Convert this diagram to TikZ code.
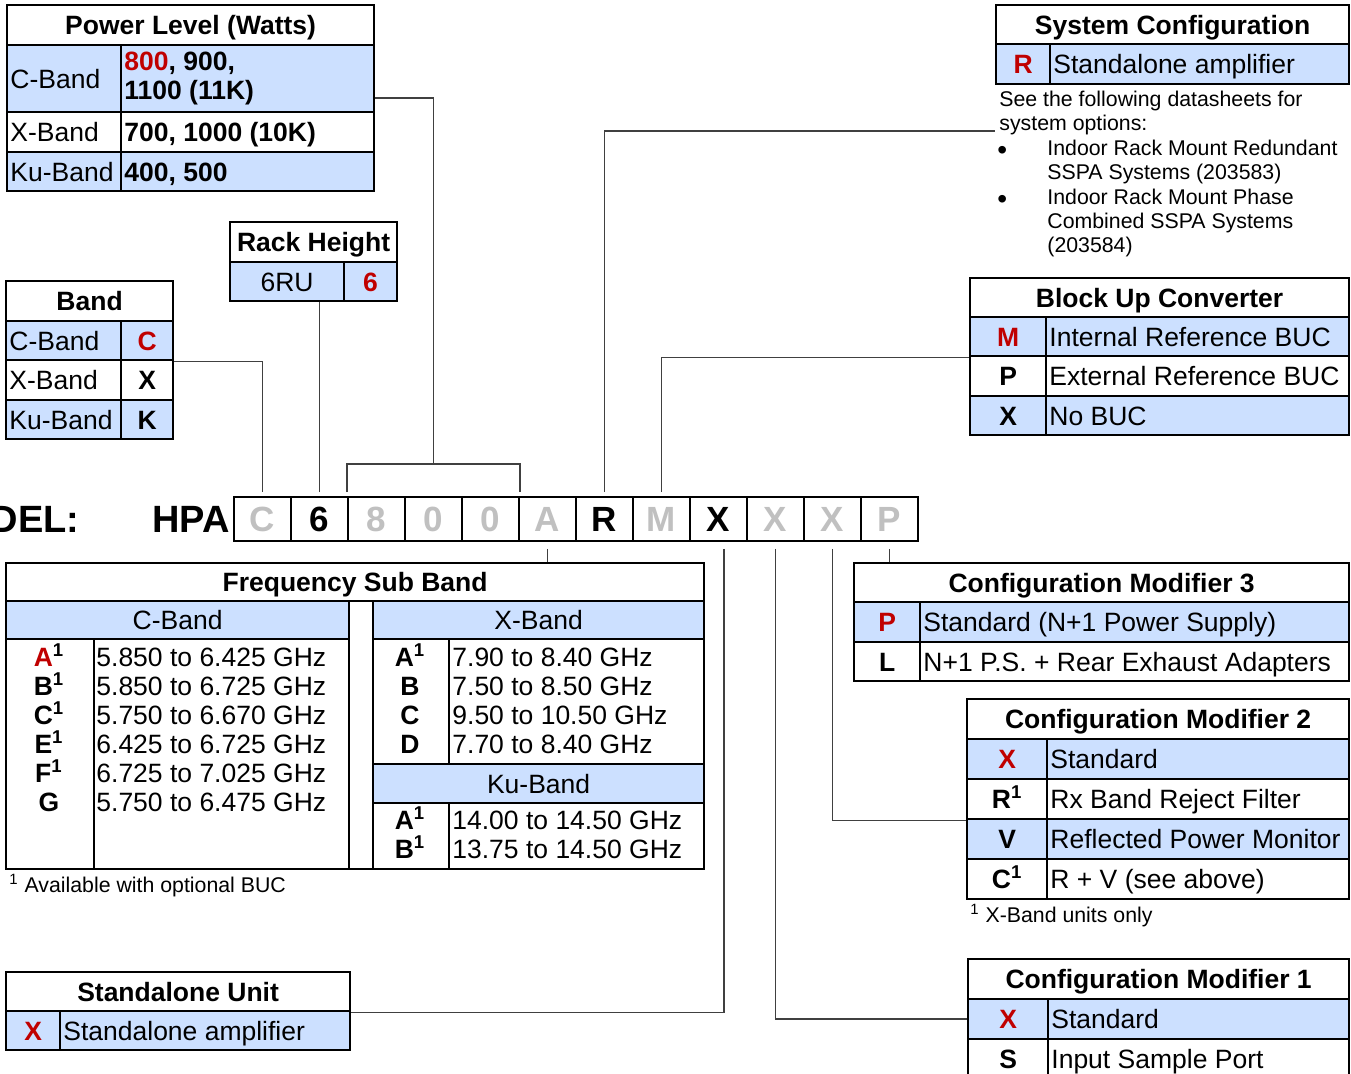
\documentclass[tikz,border=0pt]{standalone}
\usepackage{fontspec}
\setmainfont{Liberation Sans}
\usetikzlibrary{positioning,calc}

\definecolor{cellblue}{RGB}{204,224,255}
\definecolor{codered}{RGB}{192,0,0}
\definecolor{ghost}{RGB}{192,192,192}
\definecolor{wire}{RGB}{64,64,64}
\newcommand\mainsz{\fontsize{13.25pt}{14.5pt}\selectfont}
\newcommand\smallsz{\fontsize{10.65pt}{12.2pt}\selectfont}
\newcommand\bigsz{\fontsize{17.5pt}{20pt}\selectfont}
\newcommand\hugesz{\fontsize{19pt}{22pt}\selectfont}

\tikzset{
  cell/.style={draw, line width=1.1pt, anchor=north west, inner sep=0pt, font=\mainsz, text height=9.5pt, text depth=0pt},
  wh/.style 2 args={minimum width=#1*0.5pt, minimum height=#2*0.5pt},
  lit/.style={fill=cellblue},
  head/.style={font=\mainsz\bfseries},
  pick/.style={font=\mainsz\bfseries, text=codered},
  opt/.style={font=\mainsz\bfseries},
  txt/.style={inner sep=0pt, font=\mainsz, text height=9.5pt, text depth=0pt},
  note/.style={inner sep=0pt, font=\smallsz, anchor=west, text height=7.6pt, text depth=0pt},
  dot/.style={inner sep=0pt, font=\fontsize{14pt}{14pt}\selectfont, anchor=base west, text height=6pt, text depth=0pt},
  slot/.style={draw, line width=0.9pt, minimum width=28.5pt, minimum height=22pt, inner sep=0pt, font=\bigsz\bfseries, text height=12.5pt, text depth=0pt},
  link/.style={draw=wire, line width=0.65pt},
}

\begin{document}
\begin{tikzpicture}[x=0.5pt, y=-0.5pt]
    \path[use as bounding box, fill=white] (0,0) rectangle (1351,1074);

    % Model number
    \foreach \nm/\ch/\ink [count=\i from 0] in {mC/C/ghost, m6/6/black, m8/8/ghost, mZa/0/ghost, mZb/0/ghost, mA/A/ghost, mR/R/black, mM/M/ghost, mXa/X/black, mXb/X/ghost, mXc/X/ghost, mP/P/ghost}
        \node[slot, text=\ink] (\nm) at (262.5+57*\i,519) {\ch};
    \node[inner sep=0pt, font=\hugesz\bfseries, text height=13.6pt, text depth=0pt, left=1.5pt of mC.west] (hpa) {HPA};
    \node[inner sep=0pt, font=\hugesz\bfseries, text height=13.6pt, text depth=0pt, left=36pt of hpa] (modelLbl) {MODEL:};

    % Power level
    \node[cell, head, wh={367}{40}] (pwrHead) at (6,4) {Power Level (Watts)};
    \node[cell, lit, wh={114}{67}] (pwrC) at (6,44) {};
    \node[cell, lit, wh={253}{67}] (pwrCv) at (120,44) {};
    \node[cell, wh={114}{40}] (pwrX) at (6,111) {};
    \node[cell, wh={253}{40}] (pwrXv) at (120,111) {};
    \node[cell, lit, wh={114}{39}] (pwrK) at (6,151) {};
    \node[cell, lit, wh={253}{39}] (pwrKv) at (120,151) {};
    \node[txt, right=2pt of pwrC.west] (pwrCname) {C-Band};
    \node[txt, right=2pt of pwrX.west] (pwrXname) {X-Band};
    \node[txt, right=2pt of pwrK.west] (pwrKname) {Ku-Band};
    \node[txt, font=\mainsz\bfseries, align=left, text height=, text depth=, right=2pt of pwrCv.west] (pwrCval) {\textcolor{codered}{800}, 900,\\1100 (11K)};
    \node[txt, font=\mainsz\bfseries, right=2pt of pwrXv.west] (pwrXval) {700, 1000 (10K)};
    \node[txt, font=\mainsz\bfseries, right=2pt of pwrKv.west] (pwrKval) {400, 500};

    % Rack height
    \node[cell, head, wh={167}{40}] (rackHead) at (229,221) {Rack Height};
    \node[cell, lit, wh={114}{39}] (rackRU) at (229,261) {6RU};
    \node[cell, lit, pick, wh={53}{39}] (rack6) at (343,261) {6};

    % Band
    \node[cell, head, wh={167}{40}] (bandHead) at (5,280) {Band};
    \node[cell, lit, wh={115}{39}] (bandCn) at (5,320) {};
    \node[cell, lit, pick, wh={52}{39}] (bandC) at (120,320) {C};
    \node[cell, wh={115}{40}] (bandXn) at (5,359) {};
    \node[cell, opt, wh={52}{40}] (bandX) at (120,359) {X};
    \node[cell, lit, wh={115}{39}] (bandKn) at (5,399) {};
    \node[cell, lit, opt, wh={52}{39}] (bandK) at (120,399) {K};
    \node[txt, right=2pt of bandCn.west] (bandCtxt) {C-Band};
    \node[txt, right=2pt of bandXn.west] (bandXtxt) {X-Band};
    \node[txt, right=2pt of bandKn.west] (bandKtxt) {Ku-Band};

    % System configuration
    \node[cell, head, wh={353}{39}] (sysHead) at (995,4) {System Configuration};
    \node[cell, lit, pick, wh={54}{40}] (sysR) at (995,43) {R};
    \node[cell, lit, wh={299}{40}] (sysRt) at (1049,43) {};
    \node[txt, right=2pt of sysRt.west] (sysRtxt) {Standalone amplifier};
    \node[note] (sysNoteA) at (999,99) {See the following datasheets for};
    \node[note] (sysNoteB) at (999,123) {system options:};
    \node[dot] (sysDotA) at (997,160) {\textbullet};
    \node[note] (sysItemA) at (1047,148) {Indoor Rack Mount Redundant};
    \node[note] (sysItemB) at (1047,172) {SSPA Systems (203583)};
    \node[dot] (sysDotB) at (997,209) {\textbullet};
    \node[note] (sysItemC) at (1047,197) {Indoor Rack Mount Phase};
    \node[note] (sysItemD) at (1047,221) {Combined SSPA Systems};
    \node[note] (sysItemE) at (1047,245) {(203584)};

    % Block up converter
    \node[cell, head, wh={379}{39}] (bucHead) at (969,277) {Block Up Converter};
    \node[cell, lit, pick, wh={76}{39}] (bucM) at (969,316) {M};
    \node[cell, lit, wh={303}{39}] (bucMt) at (1045,316) {};
    \node[cell, opt, wh={76}{40}] (bucP) at (969,355) {P};
    \node[cell, wh={303}{40}] (bucPt) at (1045,355) {};
    \node[cell, lit, opt, wh={76}{39}] (bucX) at (969,395) {X};
    \node[cell, lit, wh={303}{39}] (bucXt) at (1045,395) {};
    \node[txt, right=2pt of bucMt.west] (bucMtxt) {Internal Reference BUC};
    \node[txt, right=2pt of bucPt.west] (bucPtxt) {External Reference BUC};
    \node[txt, right=2pt of bucXt.west] (bucXtxt) {No BUC};

    % Frequency sub band
    \node[cell, head, wh={698}{38}] (freqHead) at (5,562) {Frequency Sub Band};
    \node[cell, lit, wh={343}{38}] (freqC) at (5,600) {C-Band};
    \node[cell, wh={24}{268}] (freqGap) at (348,600) {};
    \node[cell, lit, wh={331}{38}] (freqX) at (372,600) {X-Band};
    \node[cell, wh={88}{230}] (freqCcode) at (5,638) {};
    \node[cell, wh={255}{230}] (freqCdata) at (93,638) {};
    \node[cell, wh={76}{125}] (freqXcode) at (372,638) {};
    \node[cell, wh={255}{125}] (freqXdata) at (448,638) {};
    \node[cell, lit, wh={331}{39}] (freqK) at (372,763) {Ku-Band};
    \node[cell, wh={76}{66}] (freqKcode) at (372,802) {};
    \node[cell, wh={255}{66}] (freqKdata) at (448,802) {};
    \foreach \cd/\rng [count=\i from 0] in {{\textcolor{codered}{A}\textsuperscript{1}}/5.850 to 6.425 GHz, B\textsuperscript{1}/5.850 to 6.725 GHz, C\textsuperscript{1}/5.750 to 6.670 GHz, E\textsuperscript{1}/6.425 to 6.725 GHz, F\textsuperscript{1}/6.725 to 7.025 GHz, G/5.750 to 6.475 GHz}{
        \node[txt, font=\mainsz\bfseries] (fcC\i) at (49,657.5+29*\i) {\cd};
        \node[txt, anchor=west] (fdC\i) at (96,657.5+29*\i) {\rng};
    }
    \foreach \cd/\rng [count=\i from 0] in {A\textsuperscript{1}/7.90 to 8.40 GHz, B/7.50 to 8.50 GHz, C/9.50 to 10.50 GHz, D/7.70 to 8.40 GHz}{
        \node[txt, font=\mainsz\bfseries] (fcX\i) at (410,657.5+29*\i) {\cd};
        \node[txt, anchor=west] (fdX\i) at (452,657.5+29*\i) {\rng};
    }
    \foreach \cd/\rng [count=\i from 0] in {A\textsuperscript{1}/14.00 to 14.50 GHz, B\textsuperscript{1}/13.75 to 14.50 GHz}{
        \node[txt, font=\mainsz\bfseries] (fcK\i) at (410,820+29*\i) {\cd};
        \node[txt, anchor=west] (fdK\i) at (452,820+29*\i) {\rng};
    }
    \node[note] (freqNote) at (9,885) {\textsuperscript{1} Available with optional BUC};

    % Configuration modifier 3
    \node[cell, head, wh={495}{39}] (cm3Head) at (853,562) {Configuration Modifier 3};
    \node[cell, lit, pick, wh={66}{40}] (cm3P) at (853,601) {P};
    \node[cell, lit, wh={429}{40}] (cm3Pt) at (919,601) {};
    \node[cell, opt, wh={66}{39}] (cm3L) at (853,641) {L};
    \node[cell, wh={429}{39}] (cm3Lt) at (919,641) {};
    \node[txt, right=2pt of cm3Pt.west] (cm3Ptxt) {Standard (N+1 Power Supply)};
    \node[txt, right=2pt of cm3Lt.west] (cm3Ltxt) {N+1 P.S. + Rear Exhaust Adapters};

    % Configuration modifier 2
    \node[cell, head, wh={382}{40}] (cm2Head) at (966,698) {Configuration Modifier 2};
    \node[cell, lit, pick, wh={80}{40}] (cm2X) at (966,738) {X};
    \node[cell, lit, wh={302}{40}] (cm2Xt) at (1046,738) {};
    \node[cell, opt, wh={80}{40}] (cm2R) at (966,778) {R\textsuperscript{1}};
    \node[cell, wh={302}{40}] (cm2Rt) at (1046,778) {};
    \node[cell, lit, opt, wh={80}{40}] (cm2V) at (966,818) {V};
    \node[cell, lit, wh={302}{40}] (cm2Vt) at (1046,818) {};
    \node[cell, opt, wh={80}{40}] (cm2C) at (966,858) {C\textsuperscript{1}};
    \node[cell, wh={302}{40}] (cm2Ct) at (1046,858) {};
    \node[txt, right=2pt of cm2Xt.west] (cm2Xtxt) {Standard};
    \node[txt, right=2pt of cm2Rt.west] (cm2Rtxt) {Rx Band Reject Filter};
    \node[txt, right=2pt of cm2Vt.west] (cm2Vtxt) {Reflected Power Monitor};
    \node[txt, right=2pt of cm2Ct.west] (cm2Ctxt) {R + V (see above)};
    \node[note] (cm2Note) at (970,915) {\textsuperscript{1} X-Band units only};

    % Configuration modifier 1
    \node[cell, head, wh={381}{40}] (cm1Head) at (967,958) {Configuration Modifier 1};
    \node[cell, lit, pick, wh={80}{40}] (cm1X) at (967,998) {X};
    \node[cell, lit, wh={301}{40}] (cm1Xt) at (1047,998) {};
    \node[cell, opt, wh={80}{40}] (cm1S) at (967,1038) {S};
    \node[cell, wh={301}{40}] (cm1St) at (1047,1038) {};
    \node[txt, right=2pt of cm1Xt.west] (cm1Xtxt) {Standard};
    \node[txt, right=2pt of cm1St.west] (cm1Stxt) {Input Sample Port};

    % Standalone unit
    \node[cell, head, wh={344}{39}] (soloHead) at (5,971) {Standalone Unit};
    \node[cell, lit, pick, wh={54}{39}] (soloX) at (5,1010) {X};
    \node[cell, lit, wh={290}{39}] (soloXt) at (59,1010) {};
    \node[txt, right=2pt of soloXt.west] (soloXtxt) {Standalone amplifier};

    % Connectors
    \draw[link, shorten >=2pt] (bandC.south east) -| (mC.north);
    \draw[link, shorten <=2pt] (m6.north) -- (m6.north |- rack6.south);
    \draw[link, shorten <=2pt, shorten >=2pt] (m8.north west) -- ++(0,-32) coordinate (brL) -| (mZb.north east);
    \coordinate (pwrTap) at ([yshift=-9.75pt]pwrCv.east);
    \draw[link] (pwrTap) -| ($(brL)!0.5!(brL -| mZb.north east)$);
    \coordinate (sysTap) at (995,131);
    \draw[link, shorten <=2pt] (mR.north) |- (sysTap);
    \draw[link, shorten <=2pt] (mM.north) |- (bucM.south west);
    \draw[link, shorten <=3.5pt] (mA.south) -- (mA.south |- freqHead.north);
    \draw[link, shorten <=3.5pt] ([xshift=2.75pt]mXa.south) |- (soloHead.south east);
    \draw[link, shorten <=3.5pt] (mXb.south) |- (cm1X.west);
    \draw[link, shorten <=3.5pt] (mXc.south) |- (cm2R.south west);
    \draw[link, shorten <=3.5pt] (mP.south) -- (mP.south |- cm3Head.north);
\end{tikzpicture}
\end{document}
